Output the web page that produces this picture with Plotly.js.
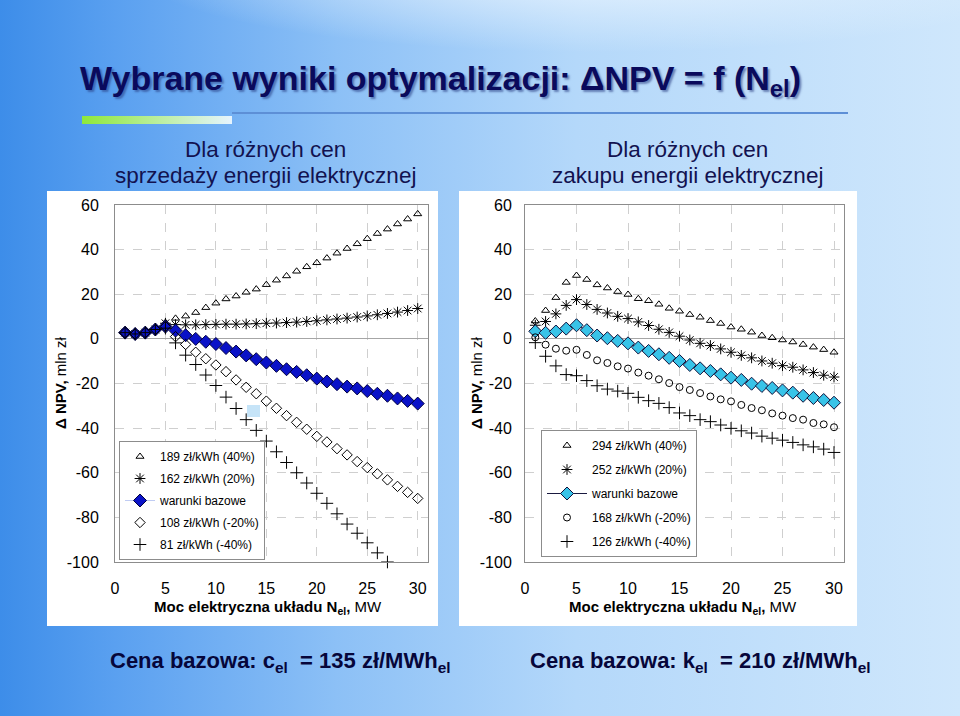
<!DOCTYPE html>
<html><head><meta charset="utf-8">
<script src="https://cdn.plot.ly/plotly-3.0.1.min.js"></script>
<style>
html,body{margin:0;padding:0;width:960px;height:716px;overflow:hidden;}
body{background:
 radial-gradient(ellipse 620px 110px at 600px -30px, rgba(236,246,255,0.9), rgba(236,246,255,0) 75%),
 linear-gradient(90deg,#3d8de9 0%,#5aa0f0 12%,#8cc0f6 35%,#b4d8fa 60%,#cfe7fc 100%);}
#chart{position:absolute;left:0;top:0;width:960px;height:716px;}
#bar{position:absolute;left:82px;top:116px;width:150px;height:8px;background:linear-gradient(90deg,#8ee83a,#e6f4ff);}
</style></head>
<body>
<div id="bar"></div>
<div id="chart"></div>
<script>
// ---------- data ----------
const N_el = [1,2,3,4,5,6,7,8,9,10,11,12,13,14,15,16,17,18,19,20,21,22,23,24,25,26,27,28,29,30];
const xTicks = [0,5,10,15,20,25,30];
const yTicks = [-100,-80,-60,-40,-20,0,20,40,60];

// Left: prices of selling electricity
const sellNames = ['189 zł/kWh (40%)','162 zł/kWh (20%)','warunki bazowe','108 zł/kWh (-20%)','81 zł/kWh (-40%)'];
const sell189 = [2.8,2.2,2.8,4.2,7.3,9.2,10.2,11.8,14.0,16.0,17.9,19.2,20.9,22.3,24.3,26.3,28.2,30.3,32.3,34.1,36.2,38.4,40.5,42.6,44.9,47.2,49.2,51.5,53.7,56.0];
const sell162 = [2.8,2.2,2.8,4.2,7.0,6.4,6.3,6.3,6.4,6.5,6.6,6.6,6.7,6.8,7.0,7.1,7.3,7.5,7.8,8.1,8.5,8.9,9.3,9.8,10.3,10.8,11.4,12.0,12.7,13.6];
const sellBase = [2.8,2.2,2.8,4.2,5.5,3.7,1.6,0.0,-1.3,-2.3,-4.1,-5.7,-7.4,-9.1,-10.6,-12.1,-13.6,-14.8,-16.3,-17.8,-19.1,-20.3,-21.4,-22.2,-23.4,-24.6,-25.5,-26.7,-27.8,-29.0];
const sell108 = [2.8,2.2,2.8,4.2,5.5,1.0,-2.5,-6.0,-8.9,-11.7,-14.7,-18.4,-21.7,-24.6,-27.9,-31.1,-34.4,-37.4,-40.5,-43.7,-46.2,-49.2,-52.0,-55.0,-57.7,-60.5,-63.2,-66.1,-68.8,-71.5];
const sell81 = [2.8,2.2,2.8,4.2,4.8,-1.8,-7.3,-11.5,-16.2,-20.9,-26.1,-31.2,-36.2,-41.0,-45.8,-50.6,-55.4,-60.0,-64.6,-69.2,-73.7,-78.4,-83.0,-87.1,-91.4,-95.9,-100.0];

// Right: prices of buying electricity
const buyNames = ['294 zł/kWh (40%)','252 zł/kWh (20%)','warunki bazowe','168 zł/kWh (-20%)','126 zł/kWh (-40%)'];
const buy294 = [8.0,12.7,18.5,25.3,28.4,26.6,24.2,22.8,21.2,19.9,18.0,17.1,15.5,13.7,12.4,10.9,9.7,8.2,6.9,5.3,4.3,3.0,1.5,0.5,-0.5,-1.4,-2.5,-3.7,-4.8,-6.0];
const buy252 = [6.1,7.8,11.2,15.0,17.6,15.4,13.2,11.6,10.1,9.1,7.6,6.0,4.3,2.9,1.2,-0.5,-2.0,-3.0,-4.5,-6.0,-7.4,-8.5,-9.9,-10.9,-12.0,-12.7,-13.9,-15.1,-16.3,-17.1];
const buyBase = [3.4,2.7,3.3,4.6,6.1,3.9,1.5,0.3,-0.9,-2.0,-3.9,-5.4,-6.9,-8.5,-9.9,-11.7,-13.2,-14.4,-15.9,-17.4,-18.4,-20.1,-21.1,-22.0,-23.1,-24.1,-25.5,-26.5,-27.4,-28.6];
const buy168 = [0.7,-2.6,-4.4,-5.3,-4.9,-7.2,-9.6,-10.8,-12.3,-13.3,-15.1,-16.5,-18.1,-19.8,-21.6,-22.9,-24.3,-25.8,-27.1,-28.0,-29.6,-31.0,-32.0,-33.4,-34.4,-35.5,-36.2,-37.7,-38.3,-39.6];
const buy126 = [-1.7,-7.8,-12.1,-16.0,-16.5,-18.7,-21.0,-22.5,-23.4,-24.4,-26.2,-27.7,-28.9,-30.8,-33.2,-34.4,-36.2,-37.1,-38.6,-40.1,-41.2,-42.2,-43.6,-44.5,-45.4,-46.4,-47.5,-48.4,-49.4,-50.9];

// ---------- traces ----------
const BLK = '#000000';
function pts(y, name, marker, xa, ya, leg, grp, extra){
  return Object.assign({
    type:'scatter', mode:'markers', x:N_el.slice(0,y.length), y:y, name:name,
    xaxis:xa, yaxis:ya, legend:leg, legendgroup:grp, marker:marker,
    cliponaxis:false, hoverinfo:'skip'
  }, extra||{});
}
const triM = {symbol:'triangle-up-open', size:7, color:BLK, line:{color:BLK,width:1}};
const starM = {symbol:'asterisk-open', size:9, color:BLK, line:{color:BLK,width:1}};
const dOpenM = {symbol:'diamond-open', size:8, color:BLK, line:{color:BLK,width:1}};
const circM = {symbol:'circle-open', size:7, color:BLK, line:{color:BLK,width:1}};
const plusM = {symbol:'cross-thin-open', size:9, color:BLK, line:{color:BLK,width:1}};

const traces = [
  pts(sell189, sellNames[0], triM, 'x','y','legend','a1'),
  pts(sell162, sellNames[1], starM, 'x','y','legend','a2'),
  pts(sellBase, sellNames[2], {symbol:'diamond', size:10, color:'#0a12c8', line:{color:'#000040',width:1}}, 'x','y','legend','a3',
      {mode:'lines+markers', line:{color:'rgba(150,170,235,0.6)', width:1}}),
  pts(sell108, sellNames[3], dOpenM, 'x','y','legend','a4'),
  pts(sell81, sellNames[4], plusM, 'x','y','legend','a5'),
  pts(buy294, buyNames[0], triM, 'x2','y2','legend2','b1'),
  pts(buy252, buyNames[1], starM, 'x2','y2','legend2','b2'),
  pts(buyBase, buyNames[2], {symbol:'diamond', size:10, color:'#38c3e8', line:{color:'#10103a',width:1}}, 'x2','y2','legend2','b3',
      {mode:'lines+markers', line:{color:'#1a1a40', width:1}}),
  pts(buy168, buyNames[3], circM, 'x2','y2','legend2','b4'),
  pts(buy126, buyNames[4], plusM, 'x2','y2','legend2','b5')
];

// ---------- layout ----------
const FONT = 'Liberation Sans, Arial, sans-serif';
function xAx(dom, anchor){
  return {domain:dom, anchor:anchor, range:[0,31], tickvals:xTicks, ticktext:xTicks.map(String),
    showgrid:true, gridcolor:'#cfcfcf', griddash:'dash', gridwidth:1, zeroline:false,
    showline:true, linecolor:'#8c8c8c', linewidth:1, mirror:true, ticks:'',
    ticklabelstandoff:12, tickfont:{family:FONT,size:16,color:'#000'}};
}
function yAx(dom, anchor, standoff){
  return {domain:dom, anchor:anchor, range:[-100,60], tickvals:yTicks, ticktext:yTicks.map(String),
    showgrid:true, gridcolor:'#cfcfcf', griddash:'dash', gridwidth:1,
    zeroline:true, zerolinecolor:'#a6a6a6', zerolinewidth:1,
    showline:true, linecolor:'#8c8c8c', linewidth:1, mirror:true, ticks:'',
    ticklabelstandoff:standoff, tickfont:{family:FONT,size:16,color:'#000'}};
}
const yDom = [1-562/716, 1-205/716];
function px(v){return v/960;} function py(v){return 1-v/716;}

const NAVY = '#121250';
function A(text, x, y, font, extra){
  return Object.assign({text:text, x:px(x), y:py(y), xref:'paper', yref:'paper', xanchor:'center', yanchor:'middle',
    showarrow:false, font:font}, extra||{});
}
const ann = [
  A('Wybrane wyniki optymalizacji: ΔNPV = f (N<sub>el</sub>)', 440, 80,
    {family:FONT, size:34, color:'#0a0a5c', weight:'bold', shadow:'2px 2px 2px rgba(40,60,130,0.55)'}),
  A('Dla różnych cen', 265, 150, {family:FONT,size:22.5,color:NAVY}),
  A('sprzedaży energii elektrycznej', 265, 176, {family:FONT,size:22.5,color:NAVY}),
  A('Dla różnych cen', 687, 150, {family:FONT,size:22.5,color:NAVY}),
  A('zakupu energii elektrycznej', 687, 176, {family:FONT,size:22.5,color:NAVY}),
  A('<b>Δ NPV,</b> mln zł', 60, 383, {family:FONT,size:15,color:'#000'}, {textangle:-90}),
  A('<b>Δ NPV,</b> mln zł', 476, 383, {family:FONT,size:15,color:'#000'}, {textangle:-90}),
  A('<b>Moc elektryczna układu N<sub>el</sub>,</b> MW', 268, 607, {family:FONT,size:15,color:'#000'}),
  A('<b>Moc elektryczna układu N<sub>el</sub>,</b> MW', 683, 607, {family:FONT,size:15,color:'#000'}),
  A('<b>Cena bazowa: c<sub>el</sub>  = 135 zł/MWh<sub>el</sub></b>', 280, 662, {family:FONT, size:22, color:'#06063a'}),
  A('<b>Cena bazowa: k<sub>el</sub>  = 210 zł/MWh<sub>el</sub></b>', 700, 662, {family:FONT, size:22, color:'#06063a'})
];

const shapes = [
  {type:'rect', xref:'paper', yref:'paper', x0:px(47), x1:px(438), y0:py(626), y1:py(191), fillcolor:'#ffffff', line:{width:0}, layer:'below'},
  {type:'rect', xref:'paper', yref:'paper', x0:px(459), x1:px(857), y0:py(626), y1:py(191), fillcolor:'#ffffff', line:{width:0}, layer:'below'},
  {type:'line', xref:'paper', yref:'paper', x0:px(232), x1:px(848), y0:py(113), y1:py(113), line:{color:'#5d8fd6', width:2}},
  {type:'rect', xref:'paper', yref:'paper', x0:px(247), x1:px(260), y0:py(417), y1:py(405), fillcolor:'#c6e4f8', line:{width:0}}
];

const legBase = {bgcolor:'#ffffff', bordercolor:'#8c8c8c', borderwidth:1, xanchor:'left', yanchor:'top',
  traceorder:'grouped', font:{family:FONT, size:12, color:'#000'}};

const layout = {
  width:960, height:716, margin:{l:0,r:0,t:0,b:0},
  paper_bgcolor:'rgba(0,0,0,0)', plot_bgcolor:'#ffffff',
  showlegend:true,
  xaxis:xAx([px(115), px(427.8)], 'y'),
  yaxis:yAx(yDom, 'x', 12),
  xaxis2:xAx([px(525), px(844.3)], 'y2'),
  yaxis2:yAx(yDom, 'x2', 9),
  legend:Object.assign({}, legBase, {x:px(119), y:py(441), tracegroupgap:3, itemwidth:30}),
  legend2:Object.assign({}, legBase, {x:px(541), y:py(430), tracegroupgap:5, itemwidth:40}),
  annotations:ann, shapes:shapes
};

Plotly.newPlot('chart', traces, layout, {staticPlot:true, displayModeBar:false});
</script>
</body></html>
